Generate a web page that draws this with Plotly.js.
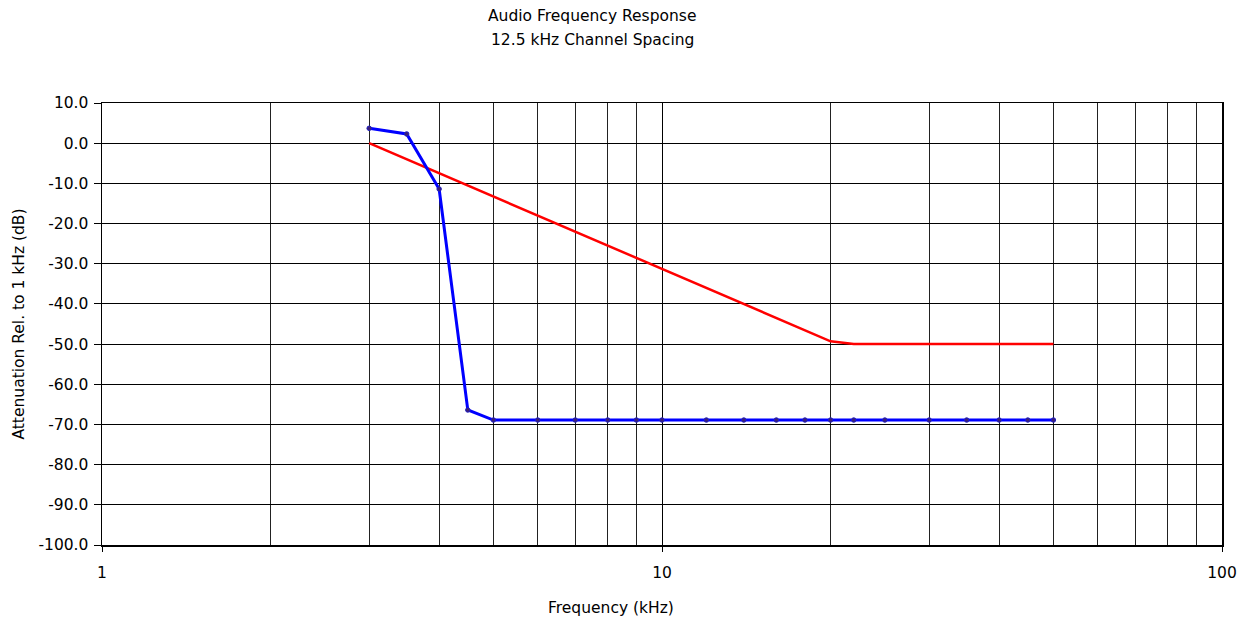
<!DOCTYPE html>
<html>
<head>
<meta charset="utf-8">
<script src="https://cdn.plot.ly/plotly-3.0.1.min.js"></script>
<style>html,body{margin:0;padding:0;background:#fff;}#chart{width:1255px;height:622px;}</style>
</head>
<body>
<div id="chart"></div>
<script>
const freqs = [3, 3.5, 4, 4.5, 5, 6, 7, 8, 9, 10, 12, 14, 16, 18, 20, 22, 25, 30, 35, 40, 45, 50];
const measured = [3.7, 2.3, -11.4, -66.4, -68.9, -68.9, -68.9, -68.9, -68.9, -68.9, -68.9, -68.9, -68.9, -68.9, -68.9, -68.9, -68.9, -68.9, -68.9, -68.9, -68.9, -68.9];
const limit = [0.0, -4.0, -7.5, -10.6, -13.3, -18.0, -22.0, -25.5, -28.6, -31.3, -36.0, -40.0, -43.5, -46.5, -49.3, -50.0, -50.0, -50.0, -50.0, -50.0, -50.0, -50.0];
const xTickVals = [1, 10, 100];
const xTickText = ['1', '10', '100'];
const xMinorVals = [2, 3, 4, 5, 6, 7, 8, 9, 20, 30, 40, 50, 60, 70, 80, 90];
const yTickVals = [10, 0, -10, -20, -30, -40, -50, -60, -70, -80, -90, -100];
const yTickText = ['10.0', '0.0', '-10.0', '-20.0', '-30.0', '-40.0', '-50.0', '-60.0', '-70.0', '-80.0', '-90.0', '-100.0'];
const titleLines = ['Audio Frequency Response', '12.5 kHz Channel Spacing'];
const xTitle = 'Frequency (kHz)';
const yTitle = 'Attenuation Rel. to 1 kHz (dB)';

const FONT = 'DejaVu Sans, sans-serif';
const FS = 15.5;

const traces = [
  {
    x: freqs, y: limit, type: 'scatter', mode: 'lines',
    line: {color: '#FF0000', width: 2.5}, hoverinfo: 'skip'
  },
  {
    x: freqs, y: measured, type: 'scatter', mode: 'lines+markers',
    line: {color: '#0000FF', width: 3},
    marker: {symbol: 'circle', size: 4.5, color: '#3C1E78', line: {color: '#2020C0', width: 1}},
    hoverinfo: 'skip'
  }
];

const txt = {family: FONT, size: FS, color: '#000'};

const layout = {
  width: 1255, height: 622,
  margin: {l: 102, r: 33, t: 103, b: 77},
  paper_bgcolor: '#ffffff', plot_bgcolor: '#ffffff',
  showlegend: false,
  font: txt,
  annotations: [
    {text: titleLines[0], xref: 'paper', yref: 'paper', x: 0.4375, y: 1.1968, xanchor: 'center', yanchor: 'middle', showarrow: false, font: txt},
    {text: titleLines[1], xref: 'paper', yref: 'paper', x: 0.4375, y: 1.1425, xanchor: 'center', yanchor: 'middle', showarrow: false, font: txt},
    {text: xTitle, xref: 'paper', yref: 'paper', x: 0.4545, y: -0.1425, xanchor: 'center', yanchor: 'middle', showarrow: false, font: txt}
  ],
  xaxis: {
    type: 'log', range: [0, 2],
    tickmode: 'array', tickvals: xTickVals, ticktext: xTickText,
    ticks: 'outside', ticklen: 5, tickcolor: '#000', tickwidth: 1,
    ticklabelstandoff: 8,
    showgrid: true, gridcolor: '#000', gridwidth: 1,
    minor: {tickmode: 'array', tickvals: xMinorVals, showgrid: true, gridcolor: '#222', gridwidth: 1, ticks: ''},
    showline: true, linecolor: '#000', linewidth: 1.5, mirror: true,
    zeroline: false,
    tickfont: txt
  },
  yaxis: {
    range: [-100, 10],
    tickmode: 'array', tickvals: yTickVals, ticktext: yTickText,
    ticks: 'outside', ticklen: 7, tickcolor: '#000', tickwidth: 1,
    ticklabelstandoff: 2,
    showgrid: true, gridcolor: '#000', gridwidth: 1,
    showline: true, linecolor: '#000', linewidth: 1.5, mirror: true,
    zeroline: false,
    tickfont: txt,
    title: {text: yTitle, font: txt, standoff: 10}
  }
};

Plotly.newPlot('chart', traces, layout, {displayModeBar: false, staticPlot: true});
</script>
</body>
</html>
